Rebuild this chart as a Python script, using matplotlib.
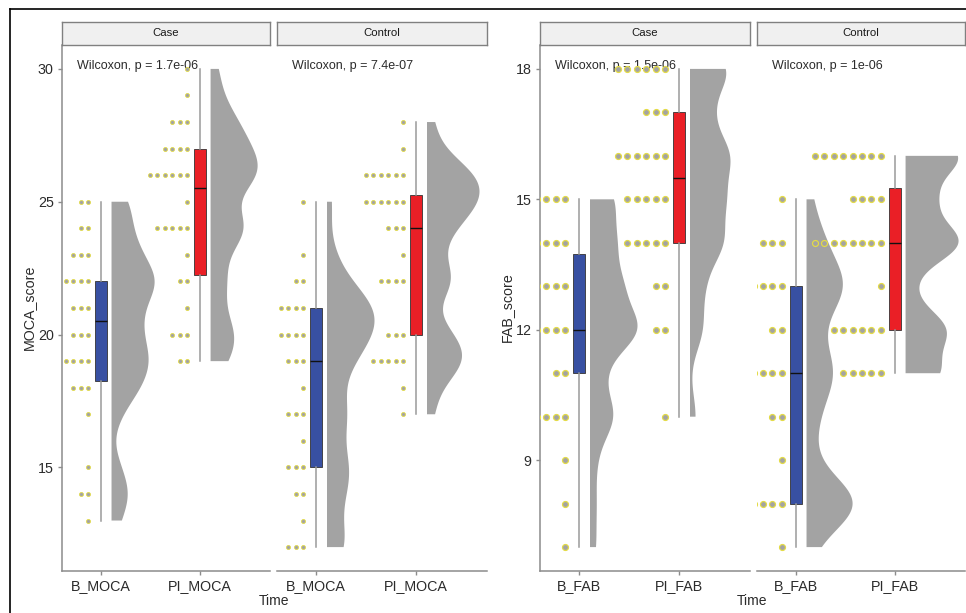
import numpy as np
import matplotlib
matplotlib.use("Agg")
import matplotlib.pyplot as plt
from matplotlib.lines import Line2D

plt.rcParams['font.family'] = ['Liberation Sans', 'DejaVu Sans']

# MOCA: score levels and number of subjects at each level
moca_levels = list(range(12, 31))
moca_case_b = [0, 1, 2, 1, 0, 1, 3, 4, 3, 3, 5, 3, 2, 2, 0, 0, 0, 0, 0]
moca_case_pi = [0, 0, 0, 0, 0, 0, 0, 2, 3, 1, 2, 1, 5, 1, 6, 4, 3, 1, 1]
moca_ctrl_b = [3, 1, 2, 3, 1, 3, 1, 3, 5, 6, 2, 1, 0, 1, 0, 0, 0, 0, 0]
moca_ctrl_pi = [0, 0, 0, 0, 0, 1, 1, 5, 3, 0, 4, 1, 3, 6, 6, 1, 1, 0, 0]

# FAB: score levels and counts
fab_levels = list(range(7, 19))
fab_case_b = [1, 1, 1, 4, 2, 8, 5, 4, 4, 0, 0, 0]
fab_case_pi = [0, 0, 0, 1, 0, 2, 2, 5, 5, 6, 3, 6]
fab_ctrl_b = [1, 10, 1, 2, 5, 2, 7, 3, 1, 0, 0, 0]
fab_ctrl_pi = [0, 0, 0, 0, 5, 6, 1, 8, 4, 8, 0, 0]

moca_ticks = ['B_MOCA', 'PI_MOCA']
fab_ticks = ['B_FAB', 'PI_FAB']
facets = ['Case', 'Control']
moca_p = ['Wilcoxon, p = 1.7e-06', 'Wilcoxon, p = 7.4e-07']
fab_p = ['Wilcoxon, p = 1.5e-06', 'Wilcoxon, p = 1e-06']

W, H = 966, 613
BLUE = '#3850a2'
RED = '#ea1f26'
GREY = '#a3a3a3'
YELLOW = '#e4dc45'
AXC = '#8c8c8c'
TXT = '#2b2b2b'
ADJUST = 0.55  # density bandwidth adjust


def rect(x0, y0, x1, y1):
    return [x0 / W, 1 - y1 / H, (x1 - x0) / W, (y1 - y0) / H]


def nrd0_factor(vals):
    # bandwidth like R's bw.nrd0 * adjust, given as factor of sd
    sd = np.std(vals, ddof=1)
    q75, q25 = np.percentile(vals, [75, 25])
    bw = 0.9 * min(sd, (q75 - q25) / 1.34) * len(vals) ** -0.2
    return ADJUST * bw / sd


def draw_panel(ax, levels, groups, vwidths, ms, step, offset):
    for i, counts in enumerate(groups):
        pos = i + 1
        vals = np.repeat(levels, counts).astype(float)
        # dots stacked to the left
        for lev, c in zip(levels, counts):
            if c:
                xs = pos - offset - step * np.arange(c)
                ax.plot(xs, [lev] * c, 'o', ms=ms, mfc=GREY, mec=YELLOW,
                        mew=ms * 0.2, zorder=5)
        # half violin
        vp = ax.violinplot([vals], positions=[pos + 0.11], widths=[vwidths[i]],
                           side='high', showextrema=False,
                           bw_method=nrd0_factor(vals), points=300)
        for b in vp['bodies']:
            b.set_facecolor(GREY)
            b.set_edgecolor('none')
            b.set_alpha(1)
            b.set_zorder(2)
        ax.boxplot([vals], positions=[pos], widths=0.12, patch_artist=True,
                   showfliers=False, showcaps=False,
                   boxprops=dict(facecolor=[BLUE, RED][i], edgecolor='#333333', lw=0.6),
                   medianprops=dict(color='#111111', lw=1),
                   whiskerprops=dict(color='#9a9a9a', lw=1.1), zorder=3)


fig = plt.figure(figsize=(W / 100, H / 100), dpi=100)

panels = [
    (62, 270, moca_levels, [moca_case_b, moca_case_pi], [0.87, 0.95], moca_ticks, moca_p[0], 0),
    (277, 487, moca_levels, [moca_ctrl_b, moca_ctrl_pi], [0.95, 1.05], moca_ticks, moca_p[1], 1),
    (540, 750, fab_levels, [fab_case_b, fab_case_pi], [0.95, 0.81], fab_ticks, fab_p[0], 0),
    (757, 965, fab_levels, [fab_ctrl_b, fab_ctrl_pi], [0.93, 1.07], fab_ticks, fab_p[1], 1),
]

for x0, x1, levels, groups, vw, ticks, ptxt, fi in panels:
    ax = fig.add_axes(rect(x0, 45, x1, 571))
    is_moca = levels is moca_levels
    if is_moca:
        draw_panel(ax, levels, groups, vw, ms=2.9, step=0.075, offset=0.126)
        ax.set_ylim(11.1, 30.9)
        ax.set_yticks([15, 20, 25, 30])
    else:
        draw_panel(ax, levels, groups, vw, ms=4.3, step=0.095, offset=0.14)
        ax.set_ylim(6.45, 18.55)
        ax.set_yticks([9, 12, 15, 18])
    ax.set_xlim(0.61, 2.71)
    ax.set_xticks([1, 2])
    ax.set_xticklabels(ticks)
    for s in ['top', 'right']:
        ax.spines[s].set_visible(False)
    ax.spines['bottom'].set_color(AXC)
    ax.spines['bottom'].set_linewidth(1.1)
    ax.spines['left'].set_color(AXC)
    ax.spines['left'].set_linewidth(1.1)
    ax.tick_params(colors=AXC, labelcolor=TXT, labelsize=10.3, length=3, width=1, pad=3)
    if fi == 1:
        ax.spines['left'].set_visible(False)
        ax.tick_params(axis='y', left=False, labelleft=False)
    ax.text(0.072, 0.96, ptxt, transform=ax.transAxes, ha='left', va='center',
            fontsize=9, color=TXT, zorder=4)

    sx = fig.add_axes(rect(x0, 22, x1, 45))
    sx.set_facecolor('#f0f0f0')
    sx.set_xticks([])
    sx.set_yticks([])
    for s in sx.spines.values():
        s.set_color('#808080')
        s.set_linewidth(1)
    sx.text(0.5, 0.5, facets[fi], ha='center', va='center', fontsize=8.2,
            color='#1a1a1a', transform=sx.transAxes)

fig.text(29 / W, 1 - 307 / H, 'MOCA_score', rotation=90, ha='center', va='center',
         fontsize=10.3, color=TXT)
fig.text(507 / W, 1 - 307 / H, 'FAB_score', rotation=90, ha='center', va='center',
         fontsize=10.3, color=TXT)
fig.text(274 / W, 1 - 601 / H, 'Time', ha='center', va='center', fontsize=10, color=TXT)
fig.text(752 / W, 1 - 601 / H, 'Time', ha='center', va='center', fontsize=10, color=TXT)

# outer frame of the original picture
fig.add_artist(Line2D([10 / W, 1], [1 - 9 / H, 1 - 9 / H], color='black', lw=1.2))
fig.add_artist(Line2D([10 / W, 10 / W], [0, 1 - 9 / H], color='black', lw=1.2))

fig.savefig('out.png', dpi=100)
